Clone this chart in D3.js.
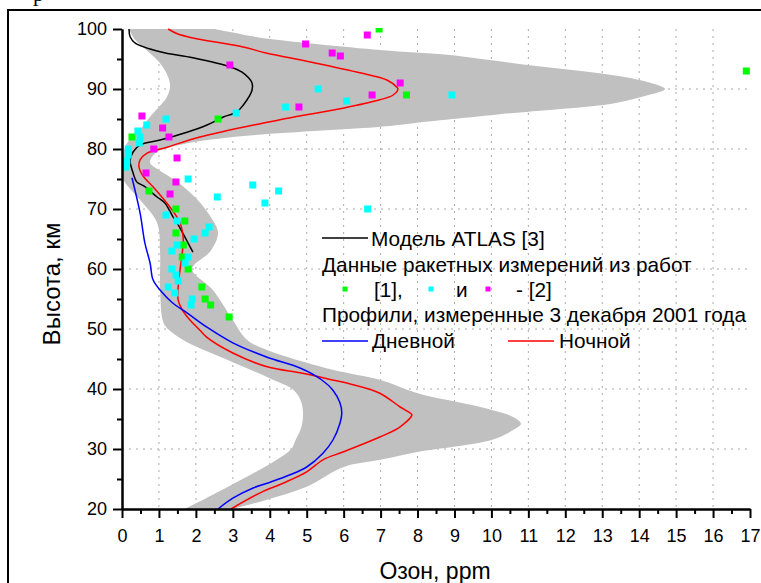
<!DOCTYPE html>
<html lang="ru">
<head>
<meta charset="UTF-8">
<title>Озон</title>
<script src="https://cdn.jsdelivr.net/npm/d3@7"></script>
<style>
  body { margin: 0; background: #fff; }
  svg { display: block; font-family: "Liberation Sans", Arial, sans-serif; }
</style>
</head>
<body>
<div id="chart"></div>
<script>
// [ozone ppm, altitude km]
const atlas = [[0.19,100],[0.22,98.7],[0.35,97.7],[1.03,96.2],[1.92,95.2],[2.92,93.7],[3.25,92.8],[3.52,91],
  [3.52,89.8],[3.28,87.3],[3.11,86.2],[2.73,85.3],[2.57,84.8],[2.3,84],[1.76,82.8],[1.03,81.5],[0.49,80.7],
  [0.3,79.5],[0.22,78.2],[0.22,77.8],[0.3,76],[0.4,74.5],[0.6,73.8],[0.95,72],[1.16,71],[1.38,68.7],[1.49,67.7],[1.92,62.8]];
const night = [[1.25,100],[1.5,99.2],[1.92,98.5],[3.28,97],[3.9,96],[5.1,94.5],[6.44,92.7],[7.17,91.5],[7.44,90.3],
  [7.47,90],[7.34,89],[6.98,88.2],[5.98,86.8],[4.63,85.3],[3.8,84.3],[2.11,82],[1.22,80.3],[0.68,79.3],[0.49,78.2],
  [0.46,77],[0.57,75.5],[0.84,73.7],[1.3,70.3],[1.57,67.7],[1.66,64.8],[1.63,62.7],[1.57,59.8],[1.52,57],[1.52,54.8],
  [1.63,53.2],[1.84,51.5],[2.11,49.8],[2.3,48.6],[3.0,46],[3.93,43.7],[4.82,42.7],[5.36,42],[5.7,41.5],[6.2,40.8],
  [6.98,39.3],[7.53,37],[7.8,36],[7.85,35.7],[7.53,33.7],[6.98,32],[5.98,29.5],[5.44,28.2],[5.0,26.2],[4.36,24.3],
  [3.74,22.7],[2.95,20]];
const day = [[0.27,75.2],[0.49,69.3],[0.62,64.3],[0.76,61],[0.84,58.2],[1.03,56.5],[1.38,54.3],[1.76,52.7],[2.3,50.3],
  [3.0,47.7],[3.93,45.3],[4.82,43.5],[5.41,41.5],[5.71,39.8],[5.9,37.7],[5.95,36],[5.9,34.3],[5.71,31.5],[5.44,29.3],
  [5.0,27],[4.55,25.7],[3.93,24.3],[3.55,23.5],[3.0,21.8],[2.6,20]];
const bandRight = [[2.5,100],[3.0,99.4],[3.7,98.6],[7.0,96.5],[8.8,95.7],[10.6,94.3],[13.3,92.3],[14.2,91.2],[14.7,90],
  [14.2,88.9],[13.3,87.6],[10.6,86],[7.9,84.3],[7.0,83.7],[3.0,82],[1.5,80.6],[0.9,79.3],[0.76,77.7],[1.0,76.5],
  [1.5,74.5],[2.05,71.5],[2.45,68.2],[2.6,66],[2.4,63],[1.9,60],[2.46,56.5],[3.0,51.5],[3.38,48.2],[3.93,46.5],
  [5.7,43.2],[7.0,41.5],[8.0,39.3],[9.7,37],[10.6,35.3],[10.8,34.2],[10.6,33.2],[10.0,31.5],[8.0,29.5],[7.0,28.2],
  [6.0,27],[5.0,23.7],[3.9,21.5],[3.0,20]];
const bandLeft = [[1.7,20],[4.55,29.8],[4.7,31.5],[4.87,34],[4.87,37.5],[4.65,39.8],[4.1,41.5],[2.8,45],[1.7,48],
  [1.2,50.3],[1.1,51.5],[1.03,57],[1.03,62.7],[0.95,67.7],[0.49,71.5],[0.2,73.5],[0.03,75],[0.0,78],[0.08,80.3],
  [0.2,81.5],[0.5,83.3],[0.68,84.8],[1.1,87.7],[1.2,88.5],[1.3,90.3],[1.25,92],[1.03,94.3],[0.75,96],[0.35,98.2],[0.19,100]];
const rocket1 = [[6.96,100],[16.9,93],[7.7,89],[2.6,85],[0.27,82],[0.73,73],[1.46,70],[1.7,68],[1.46,66],[1.66,64],
  [1.63,62],[1.79,60],[2.16,57],[2.25,55],[2.4,54],[2.9,52]];
const rocket2a = [[5.31,90],[8.93,89],[6.08,88],[4.43,87],[3.09,86],[1.19,85],[0.67,84],[0.43,83],[0.49,82],[0.47,81],
  [0.17,80],[0.17,79],[0.13,78],[0.1,77],[1.79,75],[3.54,74],[4.24,73],[2.58,72],[3.87,71],[6.65,70],[1.19,69],
  [1.49,68],[2.36,67],[2.25,66],[1.95,65],[1.49,64],[1.35,63],[1.79,62],[1.71,61],[1.35,60],[1.46,59],[1.52,58],
  [1.25,57],[1.43,56],[1.9,55],[1.87,54]];
const rocket2b = [[6.64,99],[4.97,97.5],[5.69,96],[5.91,95.5],[2.92,94],[7.53,91],[6.77,89],[4.79,87],[0.54,85.5],
  [1.1,83.5],[1.27,82],[0.86,80],[1.49,78.5],[0.65,76],[1.46,74.5],[1.3,72.5]];
const xTicks = d3.range(0, 18, 1);
const yTicks = d3.range(20, 101, 10);

const W = 761, H = 583;
const svg = d3.select("#chart").append("svg").attr("width", W).attr("height", H);

const x = d3.scaleLinear().domain([0, 17]).range([122, 750]);
const y = d3.scaleLinear().domain([20, 100]).range([509, 29]);

// cut-off caption above the frame
svg.append("text").attr("x", 33).attr("y", 1)
  .style("font-family", "'Liberation Serif', serif").style("font-size", "22px").text("р");

// frame
svg.append("rect").attr("x", 8).attr("y", 10).attr("width", 800).attr("height", 600)
  .attr("fill", "none").attr("stroke", "#000").attr("stroke-width", 2);

svg.append("defs").append("clipPath").attr("id", "clip")
  .append("rect").attr("x", 122).attr("y", 28).attr("width", 640).attr("height", 482);

// grid
const grid = svg.append("g").attr("stroke", "#aaa").attr("stroke-dasharray", "2,5");
grid.selectAll("line.v").data(xTicks.filter(d => d > 0 && d < 17)).join("line")
  .attr("x1", d => x(d)).attr("x2", d => x(d)).attr("y1", y(100)).attr("y2", y(20));
grid.selectAll("line.h").data(yTicks.filter(d => d > 20 && d < 100)).join("line")
  .attr("y1", d => y(d)).attr("y2", d => y(d)).attr("x1", x(0)).attr("x2", x(17));

// envelope: smooth sides, straight top and bottom
const line = d3.line().x(d => x(d[0])).y(d => y(d[1])).curve(d3.curveCatmullRom.alpha(0.5));
const bandPath = line(bandRight) + "L" + line(bandLeft).slice(1) + "Z";
svg.append("path").attr("d", bandPath).attr("fill", "#c0c0c0");

svg.append("path").attr("d", line(atlas)).attr("fill", "none").attr("stroke", "#000").attr("stroke-width", 1.5);
svg.append("path").attr("d", line(night)).attr("fill", "none").attr("stroke", "#f00").attr("stroke-width", 1.5);
svg.append("path").attr("d", line(day)).attr("fill", "none").attr("stroke", "#00f").attr("stroke-width", 1.5);

// rocket points
const pts = svg.append("g").attr("clip-path", "url(#clip)");
[[rocket1, "#00ff00"], [rocket2a, "#00ffff"], [rocket2b, "#ff00ff"]].forEach(([data, c]) => {
  pts.append("g").selectAll("rect").data(data).join("rect")
    .attr("x", d => x(d[0]) - 3.5).attr("y", d => y(d[1]) - 3.5)
    .attr("width", 7).attr("height", 7).attr("fill", c);
});

// axes
function styleAxis(g) {
  g.select(".domain").attr("stroke-width", 2);
  g.selectAll(".tick line").attr("stroke-width", 2);
  g.selectAll("text").style("font-size", "18px").style("font-family", "'Liberation Sans', Arial, sans-serif");
}
svg.append("g").attr("transform", `translate(${x(0)},0)`)
  .call(d3.axisLeft(y).tickValues(d3.range(25, 100, 10)).tickSize(5).tickSizeOuter(0).tickFormat(""))
  .call(styleAxis);
svg.append("g").attr("transform", `translate(${x(0)},0)`)
  .call(d3.axisLeft(y).tickValues(yTicks).tickSize(9).tickPadding(6).tickSizeOuter(0))
  .call(styleAxis);
svg.append("g").attr("transform", `translate(0,${y(20)})`)
  .call(d3.axisBottom(x).tickValues(d3.range(0.5, 17, 1)).tickSize(5).tickSizeOuter(0).tickFormat(""))
  .call(styleAxis);
svg.append("g").attr("transform", `translate(0,${y(20)})`)
  .call(d3.axisBottom(x).tickValues(xTicks).tickSize(9).tickPadding(11).tickSizeOuter(0))
  .call(styleAxis);

// axis titles
svg.append("text").attr("transform", "translate(60,284) rotate(-90)").attr("text-anchor", "middle")
  .style("font-size", "24px").text("Высота, км");
svg.append("text").attr("x", 435).attr("y", 579).attr("text-anchor", "middle")
  .style("font-size", "23px").text("Озон, ppm");

// legend
const lg = svg.append("g").style("font-size", "20.8px");
function lgText(tx, ty, s) {
  lg.append("text").attr("x", tx).attr("y", ty).attr("dy", "0.35em").text(s);
}
function lgLine(x1, ty, c) {
  lg.append("line").attr("x1", x1).attr("x2", x1 + 46).attr("y1", ty).attr("y2", ty)
    .attr("stroke", c).attr("stroke-width", 1.5);
}
function lgSq(cx, ty, c) {
  lg.append("rect").attr("x", cx - 2.5).attr("y", ty - 2.5).attr("width", 5).attr("height", 5).attr("fill", c);
}
lgLine(322, 238, "#000"); lgText(371, 239, "Модель ATLAS [3]");
lgText(322, 265, "Данные ракетных измерений из работ");
lgSq(345, 289, "#00ff00"); lgText(374, 290, "[1],");
lgSq(431, 289, "#00ffff"); lgText(456, 290, "и");
lgSq(488, 289, "#ff00ff"); lgText(516, 290, "- [2]");
lgText(322, 315, "Профили, измеренные 3 декабря 2001 года");
lgLine(322, 341, "#00f"); lgText(372, 341, "Дневной");
lgLine(508, 341, "#f00"); lgText(559, 341, "Ночной");
</script>
</body>
</html>
